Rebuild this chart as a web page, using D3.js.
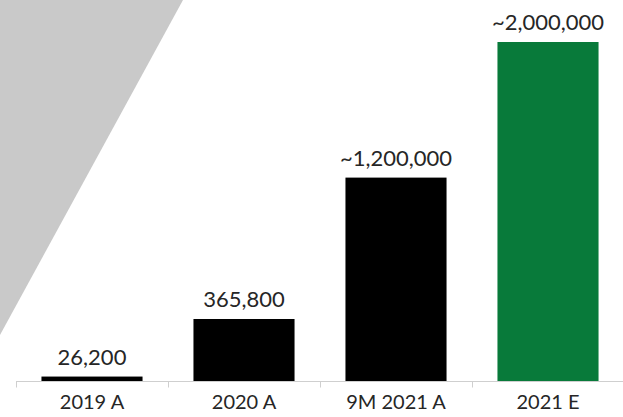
<!DOCTYPE html>
<html><head><meta charset="utf-8">
<script src="https://cdn.jsdelivr.net/npm/d3@7"></script>
<style>
html,body{margin:0;padding:0;background:#fff;}
svg{display:block;}
text{font-family:Lato, "Open Sans", sans-serif;fill:#262626;}
</style></head>
<body>
<svg id="c" width="623" height="417"></svg>
<script>
const categories = ["2019 A", "2020 A", "9M 2021 A", "2021 E"];
const values = [26200, 365800, 1200000, 2000000];
const valueLabels = ["26,200", "365,800", "~1,200,000", "~2,000,000"];
const barColors = ["#000000", "#000000", "#000000", "#087a3a"];

const svg = d3.select("#c");
const W = 623, H = 417;

// decorative grey diagonal shape
svg.append("path")
  .attr("d", "M0,0 L183,0 L0,335 Z")
  .attr("fill", "#c9c9c9");

const x = d3.scaleBand().domain(categories).range([16, 624]).paddingInner(0.335).paddingOuter(0.1675);
const y = d3.scaleLinear().domain([0, 2000000]).range([381, 42]);

svg.selectAll("rect.bar").data(values).enter().append("rect")
  .attr("class", "bar")
  .attr("x", (d, i) => x(categories[i]))
  .attr("width", x.bandwidth())
  .attr("y", d => y(d))
  .attr("height", d => y(0) - y(d))
  .attr("fill", (d, i) => barColors[i]);

// axis
const axis = d3.axisBottom(x).tickSize(0).tickPadding(0);
const gx = svg.append("g").attr("transform", "translate(0,381.5)");
gx.append("line").attr("x1", 16).attr("x2", 623).attr("y1", 0).attr("y2", 0)
  .attr("stroke", "#cfcfcf").attr("stroke-width", 1);
const step = x.step();
const bounds = categories.map((c, i) => x(c) - x.paddingOuter() * step).concat([x(categories[3]) + x.bandwidth() + x.paddingOuter() * step]);
gx.selectAll("line.tk").data(bounds).enter().append("line")
  .attr("class", "tk")
  .attr("x1", d => Math.round(d) + 0.5).attr("x2", d => Math.round(d) + 0.5)
  .attr("y1", 0).attr("y2", 6)
  .attr("stroke", "#cfcfcf");
const ga = svg.append("g").attr("transform", "translate(0,409)").call(axis);
ga.select(".domain").remove();
ga.selectAll("text").attr("dy", 0).style("font-size", "20px").style("fill", "#262626")
  .style("font-family", "Lato, sans-serif");

// value labels
svg.selectAll("text.val").data(values).enter().append("text")
  .attr("class", "val")
  .attr("x", (d, i) => x(categories[i]) + x.bandwidth() / 2)
  .attr("y", d => y(d) - 12)
  .attr("text-anchor", "middle")
  .style("font-size", "22px")
  .text((d, i) => valueLabels[i]);
</script>
</body></html>
